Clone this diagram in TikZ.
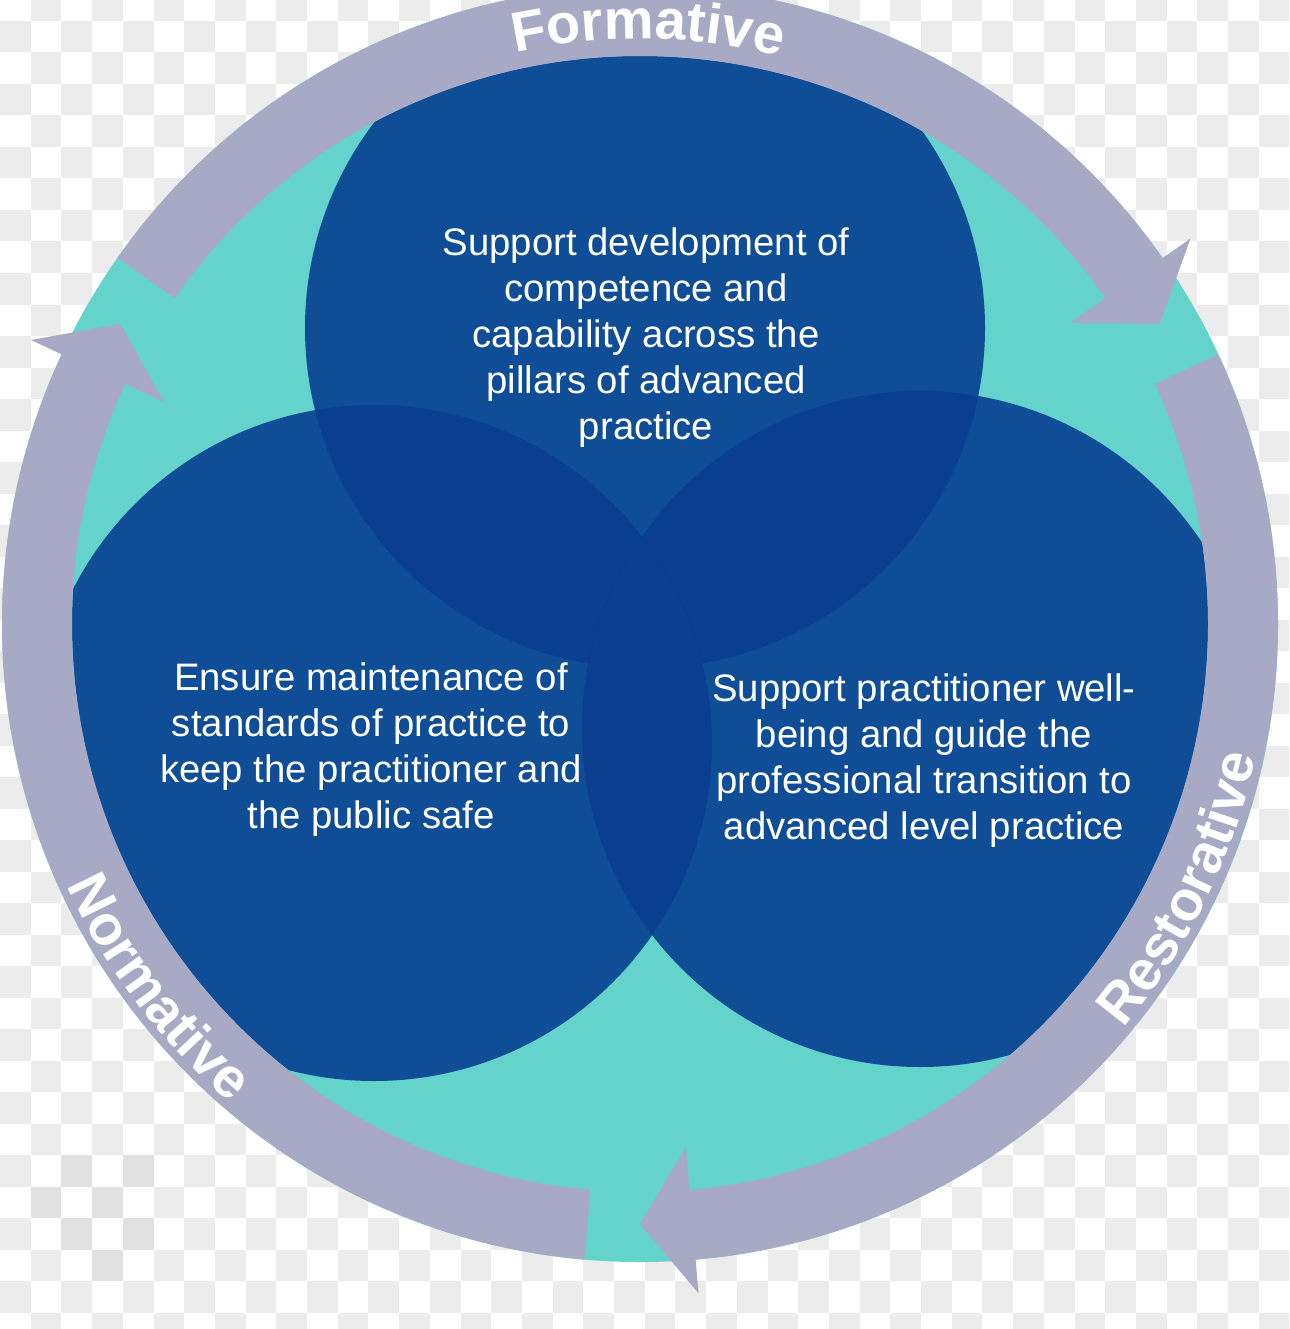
\documentclass[tikz,border=0pt]{standalone}
\usepackage{fontspec}
\setmainfont{Liberation Sans}
\usetikzlibrary{decorations.text}
\definecolor{tealbg}{HTML}{63D3CB}
\definecolor{ringgrey}{HTML}{A8AAC5}
\definecolor{blueA}{HTML}{0F4D97}
\definecolor{blueB}{HTML}{0A3E8E}
\definecolor{blueC}{HTML}{053288}
\definecolor{checker}{HTML}{ECECEC}
\definecolor{checkerdark}{HTML}{E1E1E1}
\newcommand{\arcfont}{\fontsize{56}{60}\selectfont\bfseries\color{white}}
\begin{document}
\begin{tikzpicture}[x=1pt,y=1pt,
  bodytext/.style={text=white, align=center, font=\fontsize{38.3}{46}\selectfont},
  ringarrow/.style={fill=ringgrey},
  arclabel/.style={decorate, decoration={text along path, text={|\arcfont|#1}, text align=center}}]
\useasboundingbox (0,0) rectangle (1289,-1329);
\fill[white] (0,0) rectangle (1289,-1329);
% transparency checkerboard
\foreach \r in {0,...,42} {
  \foreach \k in {0,...,41} {
    \pgfmathtruncatemacro\p{mod(\r+\k,2)}
    \ifnum\p=1 \fill[checker] (30.7*\k, 10.5-31.5*\r) rectangle ++(30.7,-31.5); \fi
  }
}
\foreach \k/\r in {2/37,4/37,1/38,3/38,2/39,4/39,3/40}
  \fill[checkerdark] (30.7*\k, 10.5-31.5*\r) rectangle ++(30.7,-31.5);
\coordinate (C) at (640,-624);
\coordinate (T) at (645,-328);
\coordinate (L) at (374,-743);
\coordinate (R) at (920,-729);
% teal disk
\fill[tealbg] (C) circle[radius=638];
% venn circles
\begin{scope}
  \clip (C) circle[radius=568];
  \fill[blueA] (T) circle[radius=340];
  \fill[blueA] (L) circle[radius=338];
  \fill[blueA] (R) circle[radius=338];
  \begin{scope}
    \clip (T) circle[radius=340];
    \fill[blueB] (L) circle[radius=338];
    \fill[blueB] (R) circle[radius=338];
    \begin{scope}
      \clip (L) circle[radius=338];
      \fill[blueC] (R) circle[radius=338];
    \end{scope}
  \end{scope}
  \begin{scope}
    \clip (L) circle[radius=338];
    \fill[blueB] (R) circle[radius=338];
  \end{scope}
\end{scope}
% ring arrows
\foreach \a in {145,25,-95} {
  \pgfmathsetmacro\b{\a-110}
  \pgfmathsetmacro\c{\a-115}
  \fill[ringarrow] ([shift={(\a:638)}]C) arc[start angle=\a, end angle=\b, radius=638]
    -- ([shift={(\b:672)}]C) -- ([shift={(\c:600)}]C) -- ([shift={(\b:525)}]C)
    -- ([shift={(\b:568)}]C) arc[start angle=\b, end angle=\a, radius=568] -- cycle;
}
% texts
\node[bodytext] (ftext) at (646,-338) {Support development of\\competence and\\capability across the\\pillars of advanced\\practice};
\node[bodytext] (ntext) at (371,-750) {Ensure maintenance of\\standards of practice to\\keep the practitioner and\\the public safe};
\node[bodytext] (rtext) at (924,-761) {Support practitioner well-\\being and guide the\\professional transition to\\advanced level practice};
% arc labels
\path[arclabel=Formative] ([shift={(104.2:585)}]C) arc[start angle=104.2, end angle=74.2, radius=585];
\path[arclabel=Restorative] ([shift={(-41:630)}]C) arc[start angle=-41, end angle=-11, radius=630];
\path[arclabel=Normative] ([shift={(202:630)}]C) arc[start angle=202, end angle=232, radius=630];
\end{tikzpicture}
\end{document}
